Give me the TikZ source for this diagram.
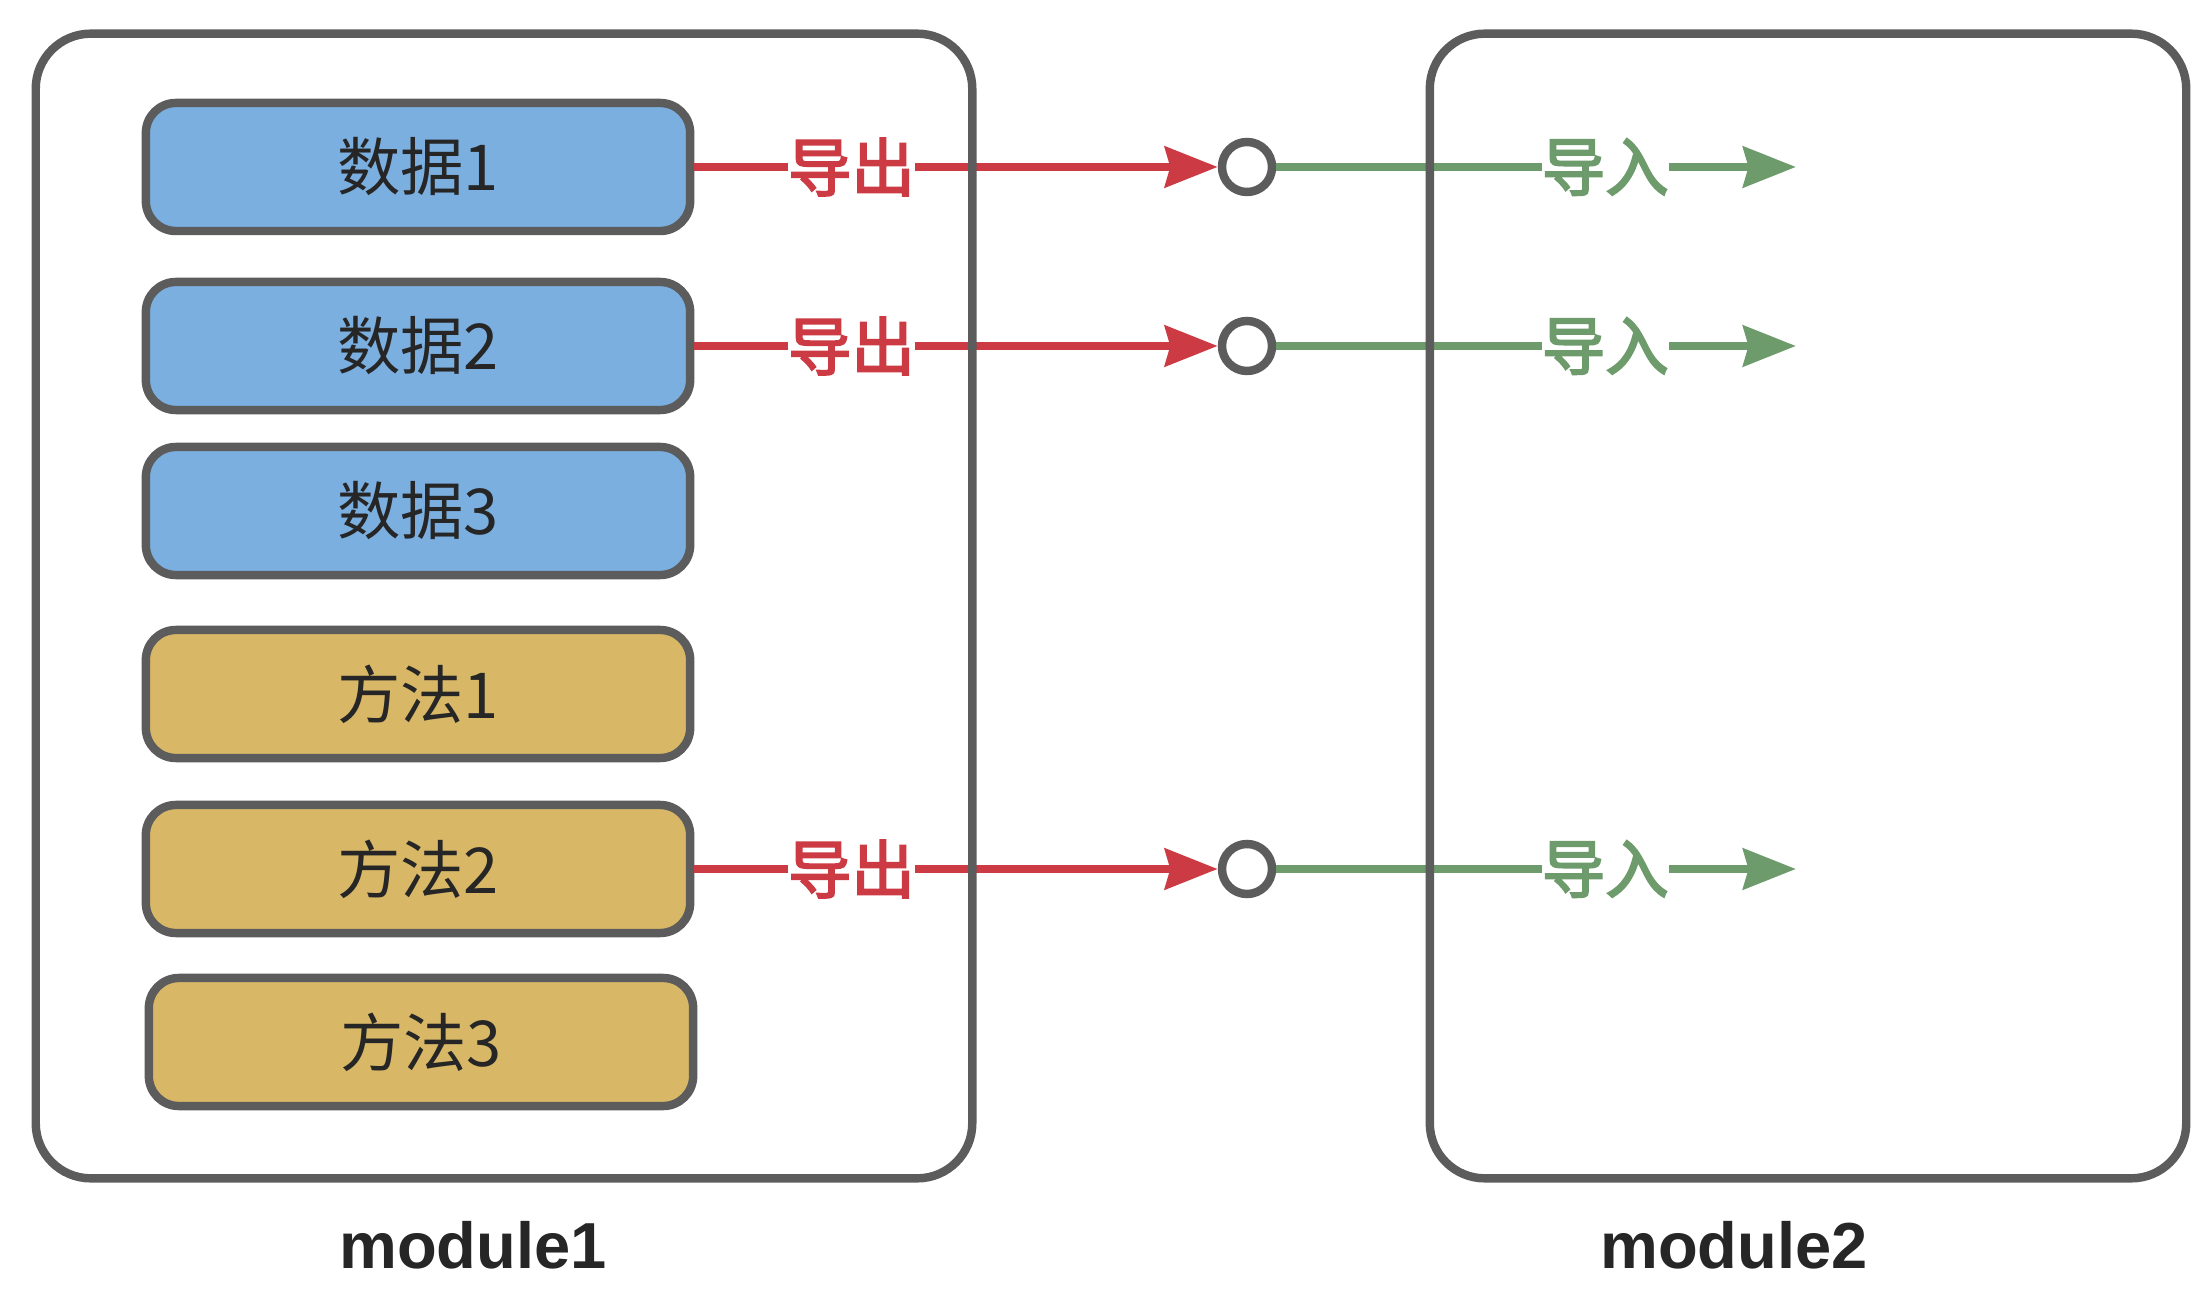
\documentclass[tikz,border=0pt]{standalone}
\usepackage{fontspec}
\setmainfont{Liberation Sans}
\newfontfamily\cjk{Noto Sans CJK SC}
\newfontfamily\cjktag{Noto Sans CJK SC}[FakeBold=3]
\usetikzlibrary{arrows.meta}
\definecolor{edgegray}{HTML}{5B5C5B}
\definecolor{textgray}{HTML}{262626}
\definecolor{databg}{HTML}{7BAFDF}
\definecolor{funcbg}{HTML}{D8B867}
\definecolor{exportred}{HTML}{CC3A44}
\definecolor{importgreen}{HTML}{6D9B6B}
\begin{document}
\begin{tikzpicture}[x=0.01cm,y=-0.01cm,
    item/.style={draw=edgegray,line width=2.4pt,rounded corners=0.3cm,minimum width=5.44cm,minimum height=1.28cm,text=textgray,font=\cjk\fontsize{18}{20}\selectfont},
    data/.style={item,fill=databg},
    func/.style={item,fill=funcbg},
    module/.style={draw=edgegray,line width=2.4pt,rounded corners=0.55cm,minimum height=11.44cm},
    port/.style={circle,draw=edgegray,line width=2.4pt,fill=white,minimum size=0.5cm,inner sep=0pt},
    export/.style={draw=exportred,line width=2.5pt,-{Stealth[length=15pt,width=11.5pt,inset=1.5pt]}},
    import/.style={draw=importgreen,line width=2.5pt,-{Stealth[length=15pt,width=11.5pt,inset=1.5pt]}},
    tag/.style={fill=white,inner sep=0pt,font=\cjktag\fontsize{18}{20}\selectfont}]
    \useasboundingbox (0,0) rectangle (2204,1298);
    % module1 content
    \node[data] (d1) at (418,167) {数据1};
    \node[data] (d2) at (418,346) {数据2};
    \node[data] (d3) at (418,511) {数据3};
    \node[func] (f1) at (418,694) {方法1};
    \node[func] (f2) at (418,869) {方法2};
    \node[func] (f3) at (421,1042) {方法3};
    % ports
    \node[port] (p1) at (1247,167) {};
    \node[port] (p2) at (1247,346) {};
    \node[port] (p3) at (1247,869) {};
    \coordinate (t1) at (1796,167);
    \coordinate (t2) at (1796,346);
    \coordinate (t3) at (1796,869);
    % export / import
    \draw[export] (d1.east) -- (p1) node[tag,text=exportred,pos=.3] (e1) {导出};
    \draw[export] (d2.east) -- (p2) node[tag,text=exportred,pos=.3] (e2) {导出};
    \draw[export] (f2.east) -- (p3) node[tag,text=exportred,pos=.3] (e3) {导出};
    \draw[import] (p1) -- (t1) node[tag,text=importgreen,pos=.633] (i1) {导入};
    \draw[import] (p2) -- (t2) node[tag,text=importgreen,pos=.633] (i2) {导入};
    \draw[import] (p3) -- (t3) node[tag,text=importgreen,pos=.633] (i3) {导入};
    % modules
    \node[module,minimum width=9.36cm] (m1) at (504,606) {};
    \node[module,minimum width=7.56cm] (m2) at (1808,606) {};
    \node[anchor=base,text=textgray,font=\bfseries\fontsize{18.5}{20}\selectfont] (n1) at (473,1268) {module1};
    \node[anchor=base,text=textgray,font=\bfseries\fontsize{18.5}{20}\selectfont] (n2) at (1734,1268) {module2};
\end{tikzpicture}
\end{document}
